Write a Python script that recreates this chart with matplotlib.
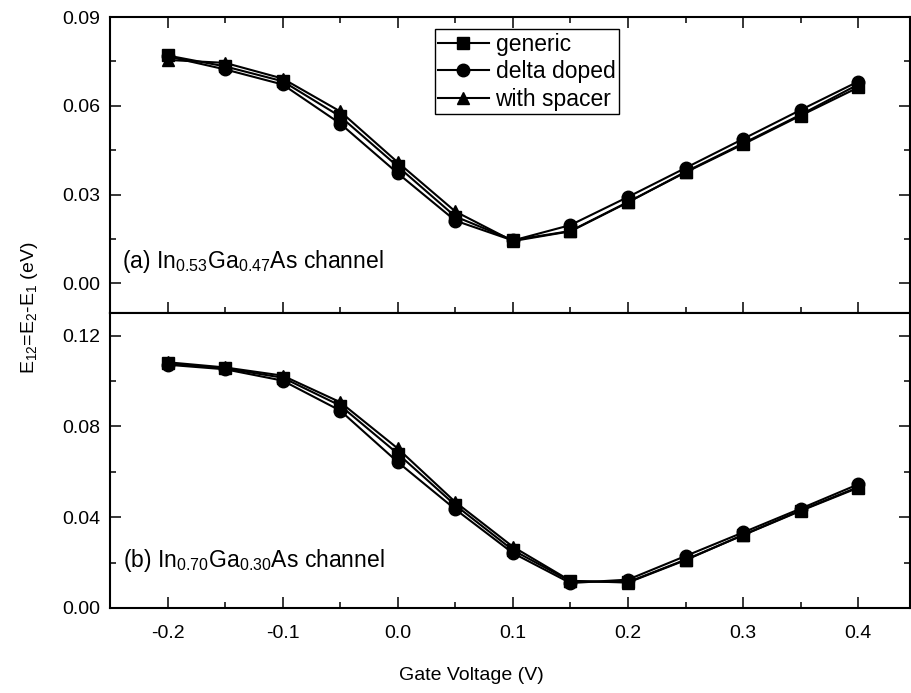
import numpy as np
import matplotlib
matplotlib.use('Agg')
import matplotlib.pyplot as plt
from matplotlib.ticker import MultipleLocator, FormatStrFormatter

plt.rcParams['font.family'] = ['Liberation Sans', 'DejaVu Sans']
plt.rcParams['mathtext.default'] = 'regular'
plt.rcParams['axes.unicode_minus'] = False

# Gate voltage (V)
gate_v = [-0.2, -0.15, -0.1, -0.05, 0.0, 0.05, 0.1, 0.15, 0.2, 0.25, 0.3, 0.35, 0.4]

# (a) In0.53Ga0.47As channel, E12 (eV)
a_generic = [0.0770, 0.0733, 0.0683, 0.0564, 0.0395, 0.0226, 0.0146, 0.0177, 0.0275, 0.0375, 0.0470, 0.0567, 0.0662]
a_delta = [0.0767, 0.0723, 0.0672, 0.0540, 0.0372, 0.0212, 0.0145, 0.0197, 0.0292, 0.0390, 0.0488, 0.0586, 0.0682]
a_spacer = [0.0755, 0.0745, 0.0692, 0.0581, 0.0409, 0.0243, 0.0143, 0.0176, 0.0274, 0.0377, 0.0473, 0.0570, 0.0672]

# (b) In0.70Ga0.30As channel, E12 (eV)
b_generic = [0.1078, 0.1056, 0.1015, 0.0892, 0.0680, 0.0453, 0.0255, 0.0118, 0.0114, 0.0213, 0.0321, 0.0428, 0.0530]
b_delta = [0.1072, 0.1052, 0.1002, 0.0870, 0.0643, 0.0435, 0.0242, 0.0110, 0.0125, 0.0229, 0.0333, 0.0438, 0.0545]
b_spacer = [0.1083, 0.1060, 0.1024, 0.0907, 0.0703, 0.0467, 0.0270, 0.0120, 0.0112, 0.0211, 0.0322, 0.0430, 0.0533]

labels = ['generic', 'delta doped', 'with spacer']
markers = ['s', 'o', '^']
msizes = [8, 9, 9]

W, H = 911, 693
fig = plt.figure(figsize=(W / 100, H / 100), dpi=100)
left, right = 110 / W, 910 / W
ax1 = fig.add_axes([left, 1 - 313 / H, right - left, (313 - 17) / H])
ax2 = fig.add_axes([left, 1 - 608 / H, right - left, (608 - 313) / H])

for ax, series in ((ax1, (a_generic, a_delta, a_spacer)), (ax2, (b_generic, b_delta, b_spacer))):
    for vals, lab, mk, ms in zip(series, labels, markers, msizes):
        ax.plot(gate_v, vals, color='black', lw=1.5, marker=mk, ms=ms, label=lab)
    ax.set_xlim(-0.25, 0.445)
    ax.xaxis.set_major_locator(MultipleLocator(0.1))
    ax.xaxis.set_minor_locator(MultipleLocator(0.05))
    ax.xaxis.set_major_formatter(FormatStrFormatter('%.1f'))
    for s in ax.spines.values():
        s.set_linewidth(1.5)
    ax.tick_params(which='both', direction='in', width=1.1, labelsize=14)
    ax.tick_params(which='major', length=8)
    ax.tick_params(which='minor', length=4)
    ax.tick_params(axis='y', pad=7)
    ax.tick_params(axis='x', pad=12)

# top panel
ax1.set_ylim(-0.01, 0.09)
ax1.yaxis.set_major_locator(MultipleLocator(0.03))
ax1.yaxis.set_minor_locator(MultipleLocator(0.015))
ax1.yaxis.set_major_formatter(FormatStrFormatter('%.2f'))
ax1.tick_params(which='both', top=True, right=True, labelbottom=False)

# bottom panel
ax2.set_ylim(0.0, 0.13)
ax2.yaxis.set_major_locator(MultipleLocator(0.04))
ax2.yaxis.set_minor_locator(MultipleLocator(0.02))
ax2.yaxis.set_major_formatter(FormatStrFormatter('%.2f'))
ax2.tick_params(which='both', top=False, right=True)

leg = ax1.legend(loc='upper left', bbox_to_anchor=(0.406, 0.959), fontsize=16.5,
                 frameon=True, fancybox=False, framealpha=1, edgecolor='black',
                 handlelength=2.2, handletextpad=0.3, labelspacing=0.2,
                 borderpad=0.15, borderaxespad=0)
leg.get_frame().set_linewidth(1.0)

ax1.text(0.015, 0.152, r'(a) In$_{0.53}$Ga$_{0.47}$As channel', transform=ax1.transAxes,
         fontsize=16.5, va='baseline', ha='left')
ax2.text(0.016, 0.139, r'(b) In$_{0.70}$Ga$_{0.30}$As channel', transform=ax2.transAxes,
         fontsize=16.5, va='baseline', ha='left')

fig.text(29 / W, 1 - 308 / H, r'E$_{12}$=E$_2$-E$_1$ (eV)', rotation=90,
         fontsize=14, ha='center', va='center')
fig.text(471 / W, 1 - 676 / H, 'Gate Voltage (V)', fontsize=14, ha='center', va='center')

fig.savefig('out.png', dpi=100)
